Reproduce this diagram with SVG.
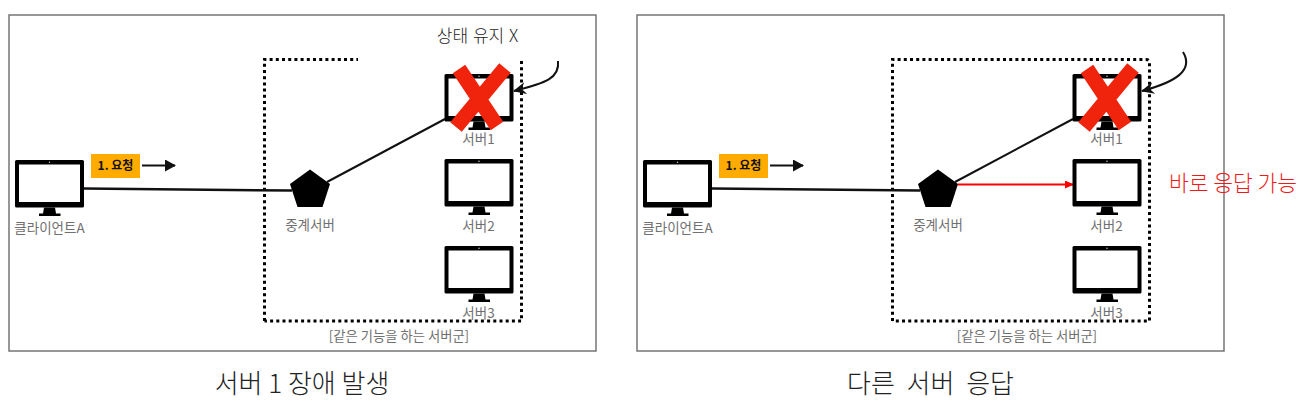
<svg xmlns="http://www.w3.org/2000/svg" width="1302" height="410" viewBox="0 0 1302 410">
<style>
text{font-family:"Noto Sans CJK KR","Noto Sans",sans-serif;text-anchor:middle}
.frame{fill:#fff;stroke:#757575;stroke-width:1.5}
.lbl{font-size:13.500px;fill:#707070}
.cap{font-size:13.300px;fill:#707070}
.tag{font-size:12px;font-weight:700;fill:#111}
.title{font-size:26px;font-weight:300;fill:#222}
.note{font-size:17px;font-weight:300;fill:#222}
.red{font-size:21.500px;font-weight:300;fill:#f01818}
.wire{fill:none;stroke:#111;stroke-width:2}
.thick{fill:none;stroke:#111;stroke-width:2.500}
.dots{fill:none;stroke:#000;stroke-width:3;stroke-dasharray:3 3.2}
.xm{stroke:#f0240c;stroke-width:15;fill:none}
</style>
<defs>
<symbol id="mon" viewBox="0 0 69 57" width="69" height="57" overflow="visible">
<rect x="0" y="0" width="69" height="47.500" rx="1.500" fill="#000"/>
<rect x="4" y="4.500" width="61" height="37.500" fill="#fff"/>
<circle cx="34.500" cy="2.300" r=".7" fill="#ddd"/>
<path d="M29 47.500H40L41 53.500H45.500V56H24V53.500H28Z" fill="#000"/>
</symbol>
<marker id="ah" markerWidth="12" markerHeight="12" refX="10" refY="6" orient="auto" markerUnits="userSpaceOnUse"><path d="M0 0L11 6L0 12Z" fill="#111"/></marker>
<marker id="ahc" markerWidth="16" markerHeight="16" refX="13" refY="8" orient="auto" markerUnits="userSpaceOnUse"><path d="M1 2L14 8L1 14L5 8Z" fill="#111"/></marker>
<marker id="ahr" markerWidth="10" markerHeight="10" refX="8" refY="4" orient="auto" markerUnits="userSpaceOnUse"><path d="M0 0L9 4L0 8Z" fill="#f00"/></marker>
</defs>

<g id="panel-left">
<rect class="frame" x="9" y="15" width="587" height="336"/>
<path class="dots" d="M264.500 321V59.500H358"/>
<path class="dots" d="M521.500 61V321H264.500"/>
<text class="title" x="302" y="393">서버 1 장애 발생</text>
</g>
<g id="panel-right">
<rect class="frame" x="637" y="15" width="587" height="336"/>
<path class="dots" d="M892.500 321V59.500H1146Q1149.500 59.500 1149.500 63V321H892.500"/>
<text class="title" x="930.500" y="393" word-spacing="6">다른 서버 응답</text>
</g>

<g id="connectors">
<path class="thick" d="M84 188.500L292 190.500"/>
<path class="wire" d="M327 182L445 119"/>
<path class="wire" d="M142 165.500H175" marker-end="url(#ah)"/>
<path class="wire" d="M558 61C560 78 546 83 514 91" marker-end="url(#ahc)"/>
<path class="thick" d="M712 188.500L920 190.500"/>
<path class="wire" d="M955 182L1073 119"/>
<path class="wire" d="M770 165.500H803" marker-end="url(#ah)"/>
<path class="wire" d="M1183 52C1194 70 1176 82 1142 91" marker-end="url(#ahc)"/>
<path d="M958 184.500H1073" fill="none" stroke="#f00" stroke-width="1.800" marker-end="url(#ahr)"/>
</g>

<g id="clientA-left"><use href="#mon" x="15" y="160"/><text class="lbl" x="49.500" y="233">클라이언트A</text></g>
<g id="tag-left"><rect x="91" y="154" width="49" height="24" fill="#ffab00"/><text class="tag" x="115.500" y="170">1. 요청</text></g>
<g id="relay-left"><path d="M310 169.500L330 184L322.500 207H297.500L290 184Z" fill="#000"/><text class="lbl" x="310" y="230">중계서버</text></g>
<g id="server1-left"><use href="#mon" x="444.500" y="74"/><text class="lbl" x="478.500" y="144">서버1</text></g>
<g id="server2-left"><use href="#mon" x="444.500" y="159"/><text class="lbl" x="478.500" y="231">서버2</text></g>
<g id="server3-left"><use href="#mon" x="444.500" y="246"/><text class="lbl" x="478.500" y="318">서버3</text></g>
<g id="x-left"><path class="xm" d="M459 69L497 126M505 68L456 127"/></g>
<g id="note-left"><text class="note" x="477.500" y="42" word-spacing="1">상태 유지 X</text></g>
<g id="caption-left"><text class="cap" x="399" y="341">[같은 기능을 하는 서버군]</text></g>

<g id="clientA-right"><use href="#mon" x="643" y="160"/><text class="lbl" x="677.500" y="233">클라이언트A</text></g>
<g id="tag-right"><rect x="719" y="154" width="49" height="24" fill="#ffab00"/><text class="tag" x="743.500" y="170">1. 요청</text></g>
<g id="relay-right"><path d="M938 169.500L958 184L950.500 207H925.500L918 184Z" fill="#000"/><text class="lbl" x="938" y="230">중계서버</text></g>
<g id="server1-right"><use href="#mon" x="1072.500" y="74"/><text class="lbl" x="1106.500" y="144">서버1</text></g>
<g id="server2-right"><use href="#mon" x="1072.500" y="159"/><text class="lbl" x="1106.500" y="231">서버2</text></g>
<g id="server3-right"><use href="#mon" x="1072.500" y="246"/><text class="lbl" x="1106.500" y="318">서버3</text></g>
<g id="x-right"><path class="xm" d="M1087 69L1125 126M1133 68L1084 127"/></g>
<g id="note-right"><text class="red" x="1233" y="191">바로 응답 가능</text></g>
<g id="caption-right"><text class="cap" x="1027" y="341">[같은 기능을 하는 서버군]</text></g>
</svg>
